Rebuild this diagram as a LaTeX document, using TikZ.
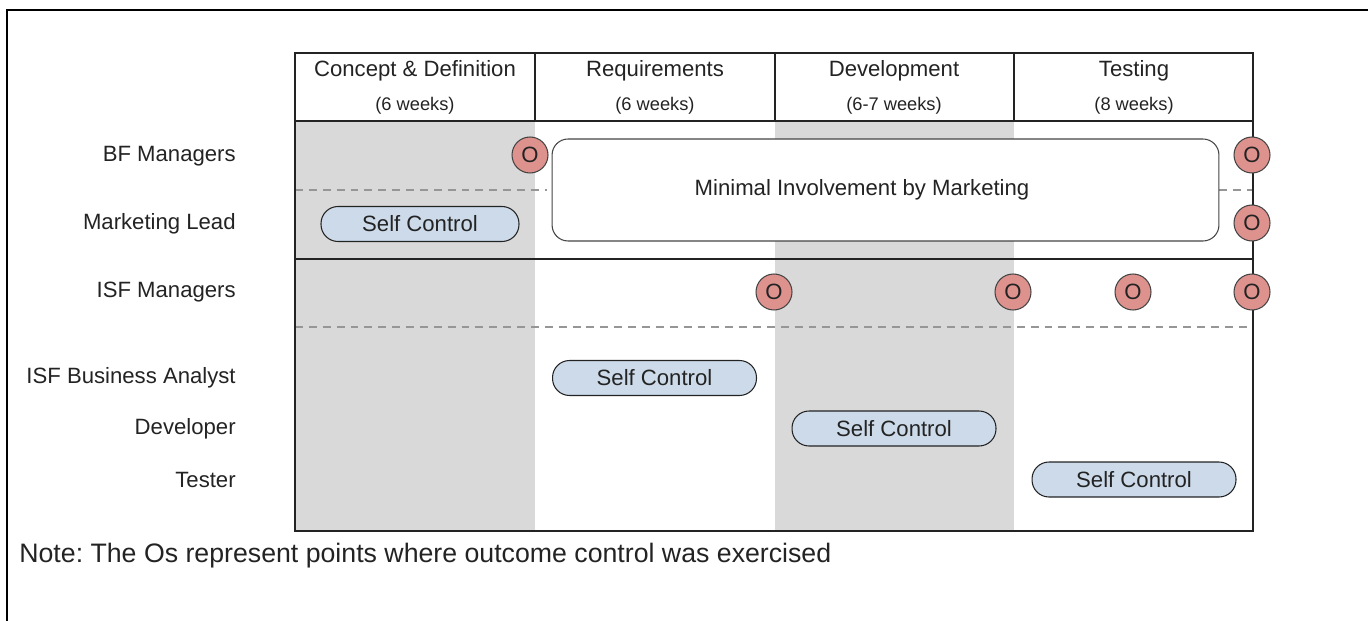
\documentclass[tikz,border=0pt]{standalone}
\usepackage{fontspec}
\setmainfont{Liberation Sans}
\usetikzlibrary{positioning}
\frenchspacing
\definecolor{phasegray}{RGB}{217,217,217}
\definecolor{ocirc}{RGB}{222,146,141}
\definecolor{selfblue}{RGB}{204,218,233}
\definecolor{ink}{RGB}{35,35,35}
\definecolor{dashgray}{RGB}{150,150,150}
\tikzset{
	every node/.style={font=\fontsize{12.6}{15}\selectfont, text=ink},
	role/.style={anchor=east, inner sep=0pt},
	weeks/.style={font=\fontsize{10.4}{12}\selectfont},
	outcome/.style={circle, draw=ink!85, fill=ocirc, minimum size=0.72cm, inner sep=0pt, line width=0.6pt},
	selfctl/.style={draw=ink, fill=selfblue, rounded corners=0.34cm, minimum width=4.08cm, minimum height=0.7cm, line width=0.6pt},
	infobox/.style={draw=ink!85, fill=white, rounded corners=0.32cm, minimum width=13.34cm, minimum height=2.04cm, line width=0.6pt},
	rowsep/.style={dashgray, line width=0.7pt, dash pattern=on 4.5pt off 3.4pt},
	grid/.style={ink, line width=0.6pt}}

\begin{document}
\begin{tikzpicture}[x=0.02cm, y=-0.02cm]
		\useasboundingbox (0,0) rectangle (1368,621);
		% outer frame
		\draw[line width=1.7pt, black] (7,621) |- (1368,10);
		
		% shaded phases
		\fill[phasegray] (295,121) rectangle (535,531);
		\fill[phasegray] (775,121) rectangle (1014,531);
		
		% row separators
		\draw[rowsep] (295,190) -- (547,190);
		\draw[rowsep] (1219,190) -- (1253,190);
		\draw[rowsep] (295,327) -- (1253,327);
		\draw[grid] (295,259) -- (1253,259);
		
		% header
		\draw[grid] (295,53) rectangle (1253,531);
		\draw[grid] (295,121) -- (1253,121);
		\foreach \x in {535,775,1014}
			\draw[grid] (\x,53) -- (\x,121);
		
		\node (p1) at (415,71) {Concept \& Definition};
		\node[weeks] (w1) at (415,106) {(6 weeks)};
		\node (p2) at (655,71) {Requirements};
		\node[weeks] (w2) at (655,106) {(6 weeks)};
		\node (p3) at (894,71) {Development};
		\node[weeks] (w3) at (894,106) {(6-7 weeks)};
		\node (p4) at (1134,71) {Testing};
		\node[weeks] (w4) at (1134,106) {(8 weeks)};
		
		% roles
		\node[role] (bf) at (236,156) {BF Managers};
		\node[role] (mkt) at (236,224) {Marketing Lead};
		\node[role] (isfm) at (236,292) {ISF Managers};
		\node[role] (isfba) at (236,378) {ISF Business Analyst};
		\node[role] (dev) at (236,429) {Developer};
		\node[role] (test) at (236,480) {Tester};
		
		% activities
		\node[infobox] (minimal) at (885.5,190) {};
		\node (minimaltext) at (862,190) {Minimal Involvement by Marketing};
		\node[selfctl, minimum width=3.96cm] (sc1) at (420,224) {Self Control};
		\node[selfctl] (sc2) at (654.5,378) {Self Control};
		\node[selfctl] (sc3) at (894,428.5) {Self Control};
		\node[selfctl] (sc4) at (1134,479.5) {Self Control};
		
		% outcome control points
		\node[outcome] (o1) at (530,155) {O};
		\node[outcome] (o2) at (1252,155) {O};
		\node[outcome] (o3) at (1252,223) {O};
		\node[outcome] (o4) at (774,292) {O};
		\node[outcome] (o5) at (1013,292) {O};
		\node[outcome] (o6) at (1133,292) {O};
		\node[outcome] (o7) at (1252,292) {O};
		
		\node[anchor=west, inner sep=0pt, font=\fontsize{15.2}{18}\selectfont] (note) at (19,556) {Note: The Os represent points where outcome control was exercised};
		
	\end{tikzpicture}
\end{document}
